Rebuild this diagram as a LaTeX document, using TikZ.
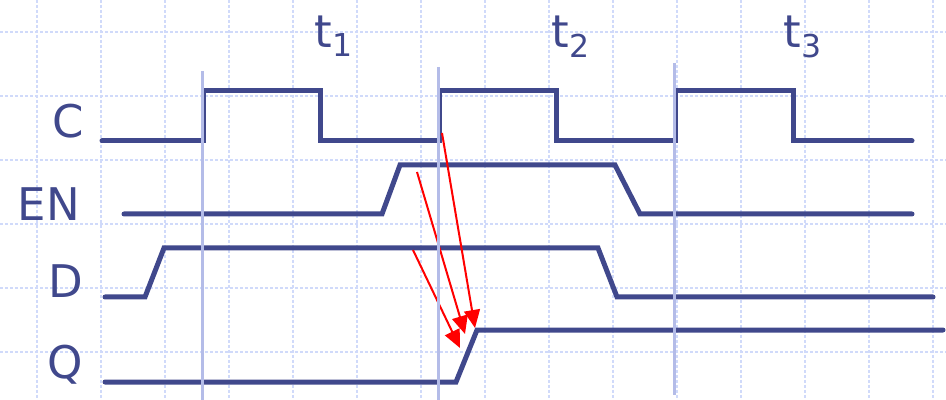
\documentclass[tikz,border=0pt]{standalone}
\usepackage{fontspec}
\setmainfont{DejaVu Sans}
\usetikzlibrary{arrows.meta}
\definecolor{sigc}{RGB}{64,72,140}
\definecolor{markc}{RGB}{180,188,232}
\definecolor{gridc}{RGB}{208,218,250}
\begin{document}
\begin{tikzpicture}[x=0.5pt,y=-0.5pt,
  every node/.style={font=\fontsize{22.5}{24}\selectfont,text=sigc,inner sep=0pt,anchor=base},
  gridline/.style={gridc,line width=0.6pt,dash pattern=on 1.6pt off 0.9pt},
  signal/.style={sigc,line width=2.5pt,line cap=round},
  marker/.style={markc,line width=1.5pt},
  cause/.style={red,line width=1pt,-{Triangle[length=9pt,width=8pt]}}]
\useasboundingbox (0,0) rectangle (946,400);
% grid
\foreach \x in {37,101,...,933} \draw[gridline] (\x,0) -- (\x,400);
\foreach \y in {32,96,...,352} \draw[gridline] (0,\y) -- (946,\y);
% signals
\draw[signal] (102,141) -- (203,141) -- (203,91) -- (320,91) -- (320,141)
  -- (439,141) -- (439,91) -- (556,91) -- (556,141) -- (675,141)
  -- (675,91) -- (793,91) -- (793,141) -- (912,141);
\draw[signal] (124,214) -- (382,214) -- (400,165) -- (615,165) -- (640,214) -- (912,214);
\draw[signal] (105,297) -- (145,297) -- (164,248) -- (598,248) -- (617,297) -- (933,297);
\draw[signal] (105,382) -- (456,382) -- (477,330) -- (943,330);
% cause arrows
\coordinate (fromC) at (442,133);
\coordinate (fromEN) at (417,172);
\coordinate (fromD) at (413,250);
\coordinate (toC) at (475,328);
\coordinate (toEN) at (465,334);
\coordinate (toD) at (460,348);
\draw[cause] (fromC) -- (toC);
\draw[cause] (fromEN) -- (toEN);
\draw[cause] (fromD) -- (toD);
% clock edges
\draw[marker] (202,71) -- (202,400);
\draw[marker] (438,67) -- (438,400);
\draw[marker] (674,63) -- (674,395);
% labels
\node (lC) at (68,138) {C};
\node (lEN) at (49,221) {EN};
\node (lD) at (66,298) {D};
\node (lQ) at (65,378) {Q};
\node (t1) at (334,48) {t\textsubscript{1}};
\node (t2) at (571,48) {t\textsubscript{2}};
\node (t3) at (803,48) {t\textsubscript{3}};
\end{tikzpicture}
\end{document}
